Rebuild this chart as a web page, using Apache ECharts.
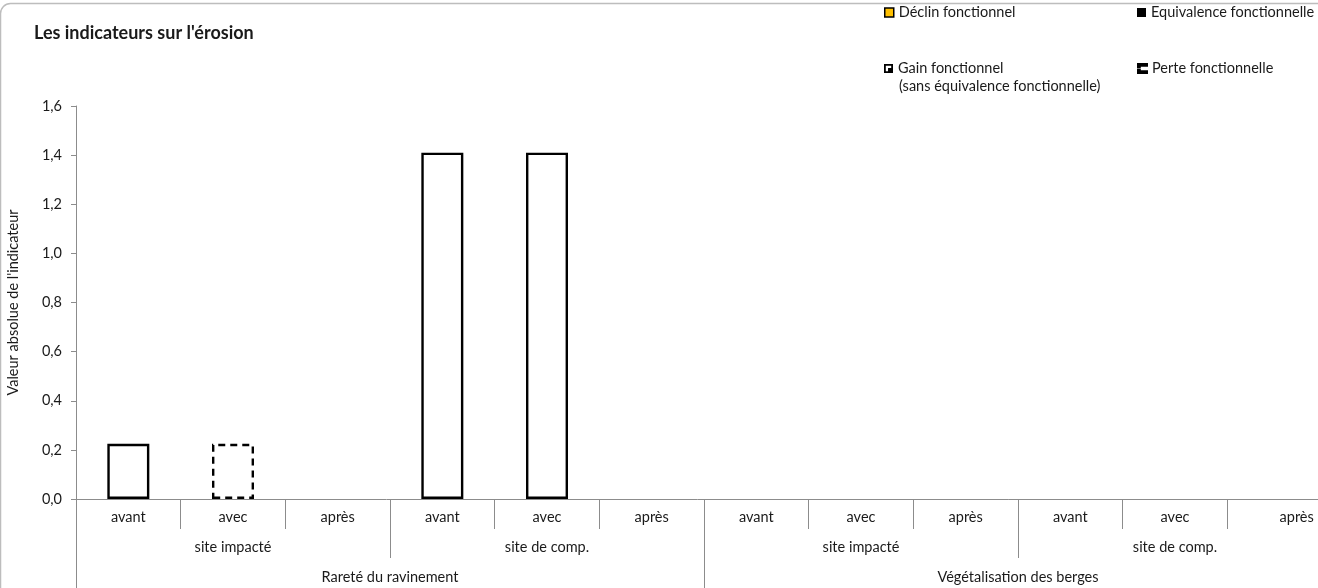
<!DOCTYPE html>
<html>
<head>
<meta charset="utf-8">
<script src="https://cdn.jsdelivr.net/npm/echarts@6/dist/echarts.min.js"></script>
<style>
  html, body { margin: 0; padding: 0; background: #fff; }
  #chart { width: 1318px; height: 588px; }
</style>
</head>
<body>
<div id="chart"></div>
<script>
// Three-level category axis: period / site / indicator
const periods = ['avant', 'avec', 'après', 'avant', 'avec', 'après', 'avant', 'avec', 'après', 'avant', 'avec', 'après'];
const sites = ['site impacté', 'site de comp.', 'site impacté', 'site de comp.'];
const indicators = ['Rareté du ravinement', 'Végétalisation des berges'];

// Absolute indicator values (plain outlined bars)
const valeurs = [0.225, null, null, 1.41, 1.41, null, null, null, null, null, null, null];
// Functional-change series
const declin = [null, null, null, null, null, null, null, null, null, null, null, null];
const equivalence = [null, null, null, null, null, null, null, null, null, null, null, null];
const gain = [null, null, null, null, null, null, null, null, null, null, null, null];
const perte = [null, 0.225, null, null, null, null, null, null, null, null, null, null];

const yTicks = { min: 0, max: 1.6, interval: 0.2 };

const FONT = 'Lato';
const FS = 14.5;
const TXT = '#1a1a1a';
const AXIS = '#8c8c8c';

const chart = echarts.init(document.getElementById('chart'));

const outlined = { color: '#fff', borderColor: '#000', borderWidth: 2.4 };
const labelStyle = { fontFamily: FONT, fontSize: FS, color: TXT };

function legendAt(left, top, item, extra) {
  return Object.assign({
    left: left, top: top, padding: 0,
    itemWidth: 9, itemHeight: 9,
    selectedMode: false,
    textStyle: labelStyle,
    data: [item]
  }, extra || {});
}

chart.setOption({
  animation: false,
  backgroundColor: '#fff',
  textStyle: { fontFamily: FONT },
  title: {
    text: "Les indicateurs sur l'érosion",
    left: 34, top: 24, padding: 0,
    textStyle: { fontFamily: FONT, fontSize: 18, fontWeight: 'bold', color: TXT }
  },
  graphic: [{
    type: 'rect',
    shape: { x: 0.5, y: 3.5, width: 1340, height: 620, r: 10 },
    style: { fill: 'none', stroke: '#bdbdbd', lineWidth: 1.5 },
    silent: true
  }, {
    // second line of the "Gain fonctionnel" legend entry
    type: 'text',
    left: 899, top: 79,
    style: { text: '(sans équivalence fonctionnelle)', font: FS + 'px ' + FONT, fill: TXT },
    silent: true
  }],
  legend: [
    legendAt(884, 5, { name: 'Déclin fonctionnel', icon: 'rect',
      itemStyle: { color: '#FFC000', borderColor: '#000', borderWidth: 1.5 } }),
    legendAt(1137, 5, { name: 'Equivalence fonctionnelle', icon: 'rect',
      itemStyle: { color: '#000' } }),
    legendAt(884, 61, { name: 'Gain fonctionnel (sans équivalence fonctionnelle)',
      icon: 'path://M0,0H10V10H0Z M2,2V8H8V2Z M4.5,4.5H8V8H4.5Z',
      itemStyle: { color: '#000' } }, {
      formatter: n => n.split(' (')[0]
    }),
    legendAt(1137, 61, { name: 'Perte fonctionnelle',
      icon: 'path://M0,0H10V2H0Z M0,2H2V3.5H0Z M0,6.5H2V8H0Z M0,8H10V10H0Z',
      itemStyle: { color: '#000' } })
  ],
  grid: { left: 76, right: -14, top: 106, bottom: 89, containLabel: false, outerBoundsMode: 'none' },
  yAxis: {
    type: 'value',
    min: yTicks.min, max: yTicks.max, interval: yTicks.interval,
    name: "Valeur absolue de l'indicateur",
    nameLocation: 'middle', nameGap: 55,
    nameTextStyle: labelStyle,
    axisLine: { show: true, lineStyle: { color: AXIS, width: 1 } },
    axisTick: { show: true, length: 5, lineStyle: { color: AXIS } },
    splitLine: { show: false },
    axisLabel: Object.assign({ margin: 14, formatter: v => v.toFixed(1).replace('.', ',') }, labelStyle)
  },
  xAxis: [
    {
      type: 'category', data: periods, position: 'bottom',
      axisLine: { show: true, lineStyle: { color: AXIS, width: 1 } },
      axisTick: { show: true, length: 30, interval: 0, lineStyle: { color: AXIS } },
      axisLabel: Object.assign({
        interval: 0, margin: 11,
        // last label nudged right: the axis runs past the canvas edge
        formatter: (v, i) => i === periods.length - 1 ? '{pad| }{t|' + v + '}' : v,
        rich: { pad: { width: 34 }, t: labelStyle }
      }, labelStyle)
    },
    {
      type: 'category', data: sites, position: 'bottom',
      axisLine: { show: false },
      axisTick: { show: true, length: 59, interval: 0, lineStyle: { color: AXIS } },
      axisLabel: Object.assign({ interval: 0, margin: 41 }, labelStyle)
    },
    {
      type: 'category', data: indicators, position: 'bottom',
      axisLine: { show: false },
      axisTick: { show: true, length: 90, interval: 0, lineStyle: { color: AXIS } },
      axisLabel: Object.assign({ interval: 0, margin: 71 }, labelStyle)
    }
  ],
  series: [
    { name: 'Valeur', type: 'bar', stack: 'v', barWidth: 42, data: valeurs, itemStyle: outlined },
    { name: 'Déclin fonctionnel', type: 'bar', stack: 'v', data: declin,
      itemStyle: { color: '#FFC000', borderColor: '#000', borderWidth: 2 } },
    { name: 'Equivalence fonctionnelle', type: 'bar', stack: 'v', data: equivalence,
      itemStyle: { color: '#000' } },
    { name: 'Gain fonctionnel (sans équivalence fonctionnelle)', type: 'bar', stack: 'v', data: gain,
      itemStyle: { color: '#000' } },
    { name: 'Perte fonctionnelle', type: 'bar', stack: 'v', data: perte,
      itemStyle: { color: '#fff', borderColor: '#000', borderWidth: 2.4, borderType: [7, 5] } }
  ]
});
</script>
</body>
</html>
